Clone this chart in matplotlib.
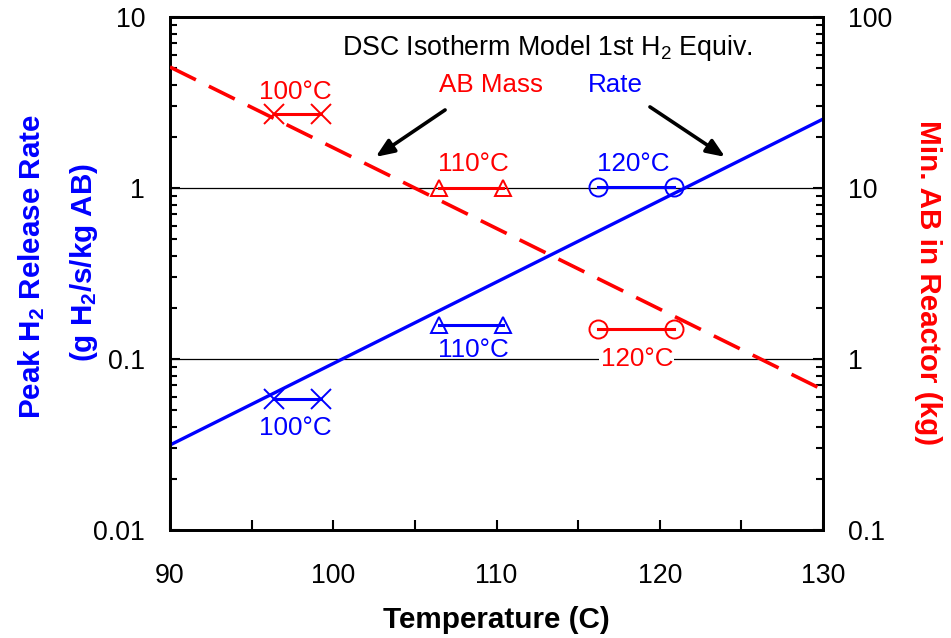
import matplotlib.pyplot as plt
from matplotlib.ticker import LogLocator, NullFormatter, FixedLocator, FuncFormatter

plt.rcParams['font.family'] = ['Liberation Sans', 'DejaVu Sans']
plt.rcParams['mathtext.fontset'] = 'custom'
plt.rcParams['mathtext.rm'] = 'Liberation Sans'
plt.rcParams['mathtext.bf'] = 'Liberation Sans:bold'
plt.rcParams['mathtext.default'] = 'rm'

# model lines (end points at 90 C and 130 C)
temp_line = [90, 130]
rate_line = [0.0314, 2.53]      # g H2/s/kg AB (left axis)
mass_line = [51.0, 0.66]        # kg AB (right axis)

# DSC isotherm measurements: temperature span of each bar
iso_labels = ['100°C', '110°C', '120°C']
iso_t_lo = [96.4, 106.5, 116.2]
iso_t_hi = [99.25, 110.4, 120.9]
iso_rate = [0.058, 0.158, 1.02]
iso_mass = [27.0, 10.0, 1.50]
iso_markers = ['x', '^', 'o']

blue = '#0000ff'
red = '#ff0000'

fig = plt.figure(figsize=(9.51, 6.38), dpi=100)
ax = fig.add_axes([170/951, 1-530/638, 653/951, 513/638])
ax2 = ax.twinx()

ax.set_xlim(90, 130)
ax.set_yscale('log')
ax.set_ylim(0.01, 10)
ax2.set_yscale('log')
ax2.set_ylim(0.1, 100)

for yv in [0.1, 1]:
    ax.axhline(yv, color='black', lw=0.9, zorder=1)

ax.plot(temp_line, rate_line, color=blue, lw=2.4, zorder=3)
ax2.plot(temp_line, mass_line, color=red, lw=2.6, linestyle=(0, (8, 4)), zorder=3)

for lo, hi, r, m, mk in zip(iso_t_lo, iso_t_hi, iso_rate, iso_mass, iso_markers):
    ms = 14 if mk == 'x' else 13 if mk == 'o' else 12
    ax.plot([lo, hi], [r, r], color=blue, lw=2.2, marker=mk, ms=ms,
            mfc='none', mew=1.4, zorder=4)
    ax2.plot([lo, hi], [m, m], color=red, lw=2.2, marker=mk, ms=ms,
             mfc='none', mew=1.4, zorder=4)

fs = 18.7
ax.text(113.15, 6.6, 'DSC Isotherm Model 1st H$_2$ Equiv.', fontsize=19.3,
        ha='center', va='center', color='black')
ax.text(109.65, 4.0, 'AB Mass', fontsize=fs, ha='center', va='center', color=red)
ax.text(117.3, 4.0, 'Rate', fontsize=fs, ha='center', va='center', color=blue)

arrow = dict(arrowstyle='-|>,head_length=1.1,head_width=0.45',
             color='black', lw=2.6, shrinkA=0, shrinkB=0)
ax.annotate('', xy=(102.6, 1.52), xytext=(106.85, 2.86), arrowprops=arrow)
ax.annotate('', xy=(124.0, 1.52), xytext=(119.4, 2.98), arrowprops=arrow)

# temperature labels
ax.text(97.7, 3.64, iso_labels[0], fontsize=fs, ha='center', va='center', color=red)
ax.text(108.6, 1.38, iso_labels[1], fontsize=fs, ha='center', va='center', color=red)
ax.text(118.4, 1.38, iso_labels[2], fontsize=fs, ha='center', va='center', color=blue)
ax.text(108.6, 0.1128, iso_labels[1], fontsize=fs, ha='center', va='center', color=blue)
ax2.text(118.6, 1.0, iso_labels[2], fontsize=fs, ha='center', va='center', color=red,
         bbox=dict(facecolor='white', edgecolor='none', pad=1), zorder=5)
ax.text(97.7, 0.0395, iso_labels[0], fontsize=fs, ha='center', va='center', color=blue)

# ticks
ax.xaxis.set_major_locator(FixedLocator([90, 100, 110, 120, 130]))
ax.xaxis.set_minor_locator(FixedLocator([95, 105, 115, 125]))
fmt = FuncFormatter(lambda v, p: f'{v:g}')
for a in (ax, ax2):
    a.yaxis.set_major_locator(LogLocator(base=10, numticks=10))
    a.yaxis.set_minor_locator(LogLocator(base=10, subs=range(2, 10), numticks=10))
    a.yaxis.set_major_formatter(fmt)
    a.yaxis.set_minor_formatter(NullFormatter())
    for s in a.spines.values():
        s.set_linewidth(2)

tfs = 19.3
ax.tick_params(axis='x', which='both', direction='in', top=False, labelsize=tfs,
               pad=24, width=1.5, length=7)
ax.tick_params(axis='y', which='both', direction='in', right=False, labelsize=tfs,
               pad=18, width=1.5)
ax.tick_params(axis='y', which='major', length=7)
ax.tick_params(axis='y', which='minor', length=5)
ax2.tick_params(axis='y', which='both', direction='in', left=False, labelsize=tfs,
                pad=18, width=1.5)
ax2.tick_params(axis='y', which='major', length=7)
ax2.tick_params(axis='y', which='minor', length=5)

lfs = 21.3
ax.set_xlabel('Temperature (C)', fontsize=lfs, fontweight='bold', labelpad=12)
fig.text(32/951, 1-266/638, r'Peak H$\mathbf{_2}$ Release Rate', fontsize=lfs,
         fontweight='bold', color=blue, rotation=90, ha='center', va='center')
fig.text(84/951, 1-262/638, r'(g H$\mathbf{_2}$/s/kg AB)', fontsize=lfs,
         fontweight='bold', color=blue, rotation=90, ha='center', va='center')
fig.text(928/951, 1-283/638, 'Min. AB in Reactor (kg)', fontsize=lfs,
         fontweight='bold', color=red, rotation=-90, ha='center', va='center')

fig.savefig('out.png', dpi=100)
